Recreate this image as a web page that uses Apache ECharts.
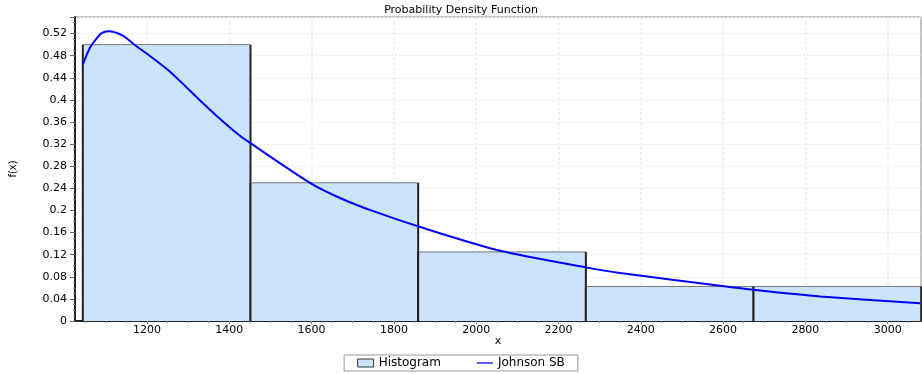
<!DOCTYPE html>
<html>
<head>
<meta charset="utf-8">
<script src="https://cdn.jsdelivr.net/npm/echarts@6/dist/echarts.min.js"></script>
<style>
html,body{margin:0;padding:0;background:#fff;}
#chart{width:922px;height:374px;}
</style>
</head>
<body>
<div id="chart"></div>
<script>
// Histogram bins
var binStart = [1044, 1451.5, 1859, 2266.5, 2674];
var binEnd = [1451.5, 1859, 2266.5, 2674, 3081.5];
var binHeight = [0.5, 0.25, 0.125, 0.0625, 0.0625];

// Johnson SB fitted curve
var curveX = [1044, 1061, 1078, 1090, 1106, 1142, 1171, 1199, 1256, 1329, 1377, 1426, 1453, 1596, 1669, 1750, 1864, 2058, 2267, 2350, 2593, 2673, 2836, 3079];
var curveY = [0.464, 0.494, 0.512, 0.521, 0.524, 0.516, 0.499, 0.484, 0.451, 0.399, 0.366, 0.335, 0.321, 0.250, 0.2226, 0.1987, 0.170, 0.127, 0.097, 0.0869, 0.0639, 0.0567, 0.0445, 0.032];

// Axis ticks
var xTickLabels = [1200, 1400, 1600, 1800, 2000, 2200, 2400, 2600, 2800, 3000];
var xMin = 1025, xMax = 3081;
var yMin = 0, yMax = 0.55, yInterval = 0.04;

var xMinorTicks = [];
for (var v = 1050; v <= 3050; v += 50) xMinorTicks.push(v);

var FONT = 'DejaVu Sans';
var chart = echarts.init(document.getElementById('chart'));

var histData = binStart.map(function (s, i) { return [s, binEnd[i], binHeight[i]]; });
var curveData = curveX.map(function (x, i) { return [x, curveY[i]]; });

chart.setOption({
  animation: false,
  backgroundColor: '#fff',
  title: {
    text: 'Probability Density Function',
    left: 'center',
    top: 0,
    textStyle: { fontSize: 11, fontWeight: 'normal', color: '#000', fontFamily: FONT }
  },
  legend: {
    bottom: 3,
    left: 'center',
    padding: [2, 13],
    borderColor: '#999',
    borderWidth: 1,
    borderRadius: 0,
    itemGap: 36,
    itemWidth: 16,
    itemHeight: 8,
    textStyle: { fontSize: 12, color: '#000', fontFamily: FONT },
    data: [
      { name: 'Histogram', icon: 'rect', itemStyle: { color: '#cce4fb', borderColor: '#333', borderWidth: 1 } },
      { name: 'Johnson SB', icon: 'path://M0,0L20,0L20,1.6L0,1.6Z', itemStyle: { color: '#0000ff', borderWidth: 0 } }
    ]
  },
  grid: {
    left: 75, right: 1, top: 17, bottom: 53,
    show: true, borderColor: '#888', borderWidth: 1, backgroundColor: 'transparent'
  },
  xAxis: [{
    type: 'value',
    min: xMin, max: xMax,
    position: 'bottom',
    name: 'x',
    nameLocation: 'middle',
    nameGap: 15,
    nameMoveOverlap: false,
    nameTextStyle: { fontSize: 11, color: '#000', fontFamily: FONT },
    axisLine: { show: true, onZero: false, lineStyle: { color: '#222', width: 2 } },
    axisTick: { show: true, customValues: xTickLabels, length: 3, lineStyle: { color: '#666' } },
    axisLabel: { customValues: xTickLabels, margin: 4, fontSize: 11, color: '#000', fontFamily: FONT,
      formatter: function (v) { return String(v); } },
    splitLine: { show: true, lineStyle: { color: '#ebebeb', width: 1.5, type: [3, 2] } }
  }, {
    type: 'value',
    min: xMin, max: xMax,
    position: 'bottom',
    offset: 0,
    axisLine: { show: false },
    axisTick: { show: true, customValues: xMinorTicks, length: 2, lineStyle: { color: '#888' } },
    axisLabel: { show: false },
    splitLine: { show: false }
  }],
  yAxis: {
    type: 'value',
    min: yMin, max: yMax, interval: yInterval,
    name: 'f(x)',
    nameLocation: 'middle',
    nameGap: 57,
    nameTextStyle: { fontSize: 10, color: '#000', fontFamily: FONT },
    axisLine: { show: true, lineStyle: { color: '#222', width: 2 } },
    axisTick: { show: true, length: 5, lineStyle: { color: '#666' } },
    minorTick: { show: true, splitNumber: 4, length: 2, lineStyle: { color: '#888' } },
    axisLabel: { showMaxLabel: false, margin: 8, fontSize: 11, color: '#000', fontFamily: FONT },
    splitLine: { show: true, lineStyle: { color: '#ebebeb', width: 1, type: [2, 2] } }
  },
  series: [{
    name: 'Histogram',
    type: 'custom',
    xAxisIndex: 0,
    encode: { x: [0, 1], y: 2 },
    data: histData,
    z: 2,
    renderItem: function (params, api) {
      var p0 = api.coord([api.value(0), api.value(2)]);
      var p1 = api.coord([api.value(1), 0]);
      return {
        type: 'group',
        children: [
          { type: 'rect', shape: { x: p0[0], y: p0[1], width: p1[0] - p0[0], height: p1[1] - p0[1] }, style: { fill: '#cce4fb' } },
          { type: 'line', shape: { x1: p0[0], y1: p0[1], x2: p1[0], y2: p0[1] }, style: { stroke: '#777', lineWidth: 1 } },
          { type: 'line', shape: { x1: p0[0], y1: p0[1], x2: p0[0], y2: p1[1] }, style: { stroke: '#222', lineWidth: 2 } },
          { type: 'line', shape: { x1: p1[0], y1: p0[1], x2: p1[0], y2: p1[1] }, style: { stroke: '#222', lineWidth: 2 } }
        ]
      };
    }
  }, {
    name: 'Johnson SB',
    type: 'line',
    xAxisIndex: 0,
    data: curveData,
    smooth: 0.25,
    symbol: 'none',
    z: 3,
    color: '#0000ff',
    lineStyle: { color: '#0000ff', width: 2 }
  }]
});
</script>
</body>
</html>
